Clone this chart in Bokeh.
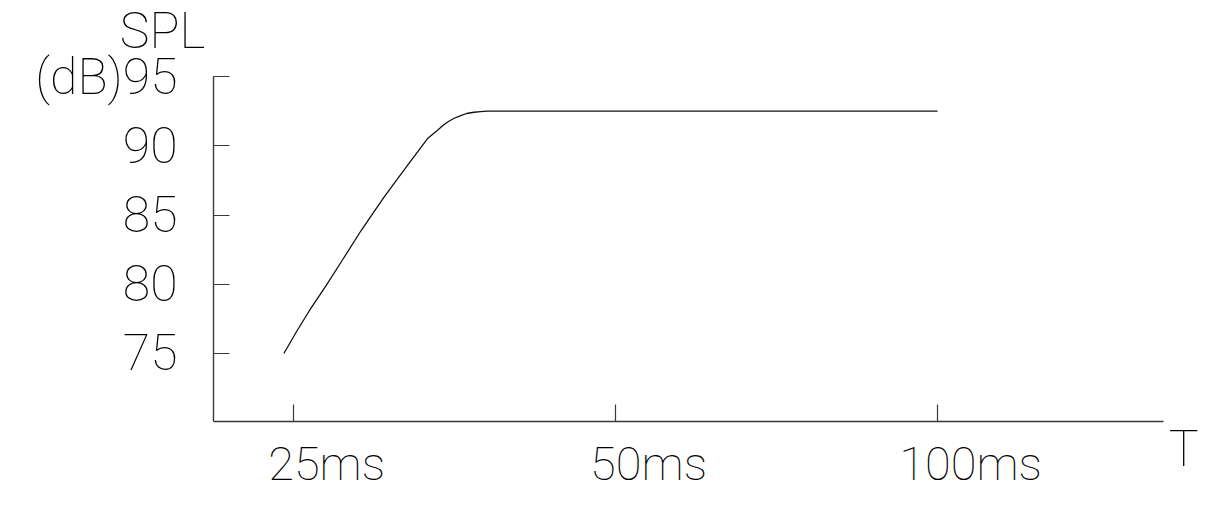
from bokeh.plotting import figure
from bokeh.models import Label, FixedTicker
from bokeh.embed import file_html
from bokeh.resources import INLINE

# ---- data ----
time_ms = [24.48, 25.11, 25.85, 26.79, 27.78, 28.91, 30.37, 31.93, 33.34, 33.70, 34.06, 34.43,
           34.80, 35.28, 35.82, 36.28, 36.86, 37.39, 37.93, 100.0]
spl_db = [75.0, 76.48, 78.07, 79.87, 81.77, 83.88, 86.29, 88.57, 90.50, 90.81, 91.10, 91.43,
          91.70, 91.97, 92.18, 92.33, 92.42, 92.47, 92.5, 92.5]
x_ticks = [25, 50, 100]
x_tick_labels = ["25ms", "50ms", "100ms"]
y_ticks = [75, 80, 85, 90, 95]
y_tick_labels = ["75", "80", "85", "90", "(dB)95"]
y_label_top = "SPL"
x_label = "T"

# axis extents (data units)
AX_X0, AX_X1 = 21.04, 162.7
AX_Y0, AX_Y1 = 70.09, 95.0
# visible ranges (whole canvas is the plotting frame; axes are drawn at fixed locations)
X_START, X_END = 13.30, 176.9
Y_START, Y_END = 64.89, 100.49

FONT = "Roboto Thin"
FSIZE = "50px"
XLAB_SIZE = "47px"
TCOL = "#000000"
ACOL = "#3a3a3a"

p = figure(width=1202, height=493, output_backend="svg", toolbar_location=None,
           x_axis_type="log", x_range=(X_START, X_END), y_range=(Y_START, Y_END),
           min_border=0)
p.outline_line_color = None
p.grid.visible = False
p.background_fill_color = "white"
p.border_fill_color = "white"

p.line(time_ms, spl_db, line_color="#111111", line_width=1.3, line_join="round")

# x axis
xa = p.xaxis[0]
xa.fixed_location = AX_Y0
xa.bounds = (AX_X0, AX_X1)
xa.ticker = FixedTicker(ticks=x_ticks, minor_ticks=[])
xa.major_tick_in = 17
xa.major_tick_out = 0
xa.minor_tick_line_color = None
xa.axis_line_color = ACOL
xa.axis_line_width = 1.4
xa.major_tick_line_color = ACOL
xa.major_tick_line_width = 1.2
xa.major_label_text_font_size = "0px"
xa.major_label_text_alpha = 0

# y axis
ya = p.yaxis[0]
ya.fixed_location = AX_X0
ya.bounds = (AX_Y0, AX_Y1)
ya.ticker = FixedTicker(ticks=y_ticks, minor_ticks=[])
ya.major_label_overrides = {t: lab for t, lab in zip(y_ticks, y_tick_labels)}
ya.major_tick_in = 16
ya.major_tick_out = 0
ya.minor_tick_line_color = None
ya.axis_line_color = ACOL
ya.axis_line_width = 1.4
ya.major_tick_line_color = ACOL
ya.major_tick_line_width = 1.2
ya.major_label_standoff = 36
ya.major_label_text_font = FONT
ya.major_label_text_font_size = FSIZE
ya.major_label_text_color = TCOL

# x tick labels (shifted right of their ticks, as in the original)
for t, lab in zip(x_ticks, x_tick_labels):
    p.add_layout(Label(x=t, y=AX_Y0, x_offset=33, y_offset=-42, text=lab,
                       text_font=FONT, text_font_size=XLAB_SIZE, text_color=TCOL,
                       text_font_style="normal", text_align="center", text_baseline="middle"))

# axis titles
p.add_layout(Label(x=AX_X0, y=AX_Y1, x_offset=-51, y_offset=46, text=y_label_top,
                   text_font=FONT, text_font_size=FSIZE, text_color=TCOL,
                   text_font_style="normal", text_align="center", text_baseline="middle"))
p.add_layout(Label(x=AX_X1, y=AX_Y0, x_offset=20, y_offset=-28, text=x_label,
                   text_font=FONT, text_font_size=FSIZE, text_color=TCOL,
                   text_font_style="normal", text_align="center", text_baseline="middle"))

open("out.html", "w").write(file_html(p, INLINE))
